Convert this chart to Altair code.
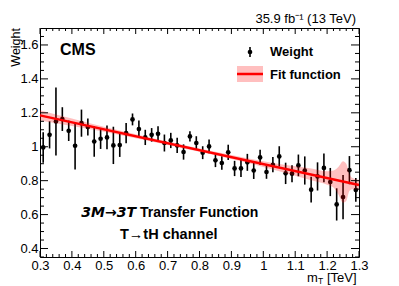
import altair as alt
import pandas as pd

# ---------------- data ----------------
bin_centers = [0.31, 0.33, 0.35, 0.37, 0.39, 0.41, 0.43, 0.45, 0.47, 0.49,
               0.51, 0.53, 0.55, 0.57, 0.59, 0.61, 0.63, 0.65, 0.67, 0.69,
               0.71, 0.73, 0.75, 0.77, 0.79, 0.81, 0.83, 0.85, 0.87, 0.89,
               0.91, 0.93, 0.95, 0.97, 0.99, 1.01, 1.03, 1.05, 1.07, 1.09,
               1.11, 1.13, 1.15, 1.17, 1.19, 1.21, 1.23, 1.25, 1.27, 1.29]
weights = [0.996, 1.070, 1.149, 1.163, 1.094, 1.006, 1.139, 1.116, 1.031, 1.047,
           1.055, 1.008, 1.010, 1.080, 1.161, 1.104, 1.055, 1.070, 1.076, 1.022,
           1.037, 1.008, 0.969, 1.061, 1.022, 0.965, 1.002, 0.920, 0.904, 0.967,
           0.872, 0.872, 0.908, 0.860, 0.937, 0.851, 0.894, 0.943, 0.843, 0.841,
           0.890, 0.860, 0.747, 0.825, 0.875, 0.792, 0.660, 0.703, 0.862, 0.745]
errors = [0.090, 0.080, 0.200, 0.070, 0.060, 0.140, 0.080, 0.050, 0.090, 0.060,
          0.070, 0.110, 0.070, 0.060, 0.035, 0.050, 0.045, 0.040, 0.045, 0.050,
          0.045, 0.045, 0.045, 0.030, 0.040, 0.038, 0.040, 0.040, 0.040, 0.045,
          0.045, 0.050, 0.050, 0.050, 0.045, 0.040, 0.045, 0.060, 0.063, 0.050,
          0.064, 0.083, 0.076, 0.083, 0.085, 0.083, 0.095, 0.130, 0.083, 0.070]

fit_x = [0.30, 1.30]
fit_y = [1.185, 0.775]

band_x = [0.30, 0.40, 0.50, 0.60, 0.70, 0.80, 0.90, 1.00, 1.10, 1.15, 1.20,
          1.22, 1.235, 1.25, 1.26, 1.27, 1.28, 1.30]
band_lo = [1.155, 1.122, 1.088, 1.050, 1.011, 0.970, 0.927, 0.881, 0.829, 0.802, 0.776,
           0.760, 0.720, 0.670, 0.680, 0.740, 0.750, 0.745]
band_hi = [1.215, 1.166, 1.118, 1.074, 1.031, 0.990, 0.951, 0.915, 0.885, 0.872, 0.856,
           0.860, 0.880, 0.915, 0.900, 0.840, 0.815, 0.805]

x_major = [0.3, 0.4, 0.5, 0.6, 0.7, 0.8, 0.9, 1.0, 1.1, 1.2, 1.3]
x_minor = [0.32, 0.34, 0.36, 0.38, 0.42, 0.44, 0.46, 0.48, 0.52, 0.54, 0.56, 0.58,
           0.62, 0.64, 0.66, 0.68, 0.72, 0.74, 0.76, 0.78, 0.82, 0.84, 0.86, 0.88,
           0.92, 0.94, 0.96, 0.98, 1.02, 1.04, 1.06, 1.08, 1.12, 1.14, 1.16, 1.18,
           1.22, 1.24, 1.26, 1.28]
y_major = [0.4, 0.6, 0.8, 1.0, 1.2, 1.4, 1.6]
y_minor = [0.35, 0.45, 0.5, 0.55, 0.65, 0.7, 0.75, 0.85, 0.9, 0.95, 1.05, 1.1,
           1.15, 1.25, 1.3, 1.35, 1.45, 1.5, 1.55, 1.65]

# ---------------- layout ----------------
W, H = 319, 229
FONT = "Liberation Sans"
xs = alt.Scale(domain=[0.3, 1.3], nice=False, zero=False)
ys = alt.Scale(domain=[0.35, 1.7], nice=False, zero=False)

pts = pd.DataFrame({"x": bin_centers, "w": weights, "e": errors})
pts["lo"] = pts["w"] - pts["e"]
pts["hi"] = pts["w"] + pts["e"]
fit = pd.DataFrame({"x": fit_x, "y": fit_y})
band = pd.DataFrame({"x": band_x, "lo": band_lo, "hi": band_hi})
xM = pd.DataFrame({"v": x_major})
xm = pd.DataFrame({"v": x_minor})
yM = pd.DataFrame({"v": y_major})
ym = pd.DataFrame({"v": y_minor})
one = pd.DataFrame({"a": [0]})

xaxis = alt.Axis(values=x_major, format="~g", ticks=False, domain=False, grid=False,
                 labelFont=FONT, labelFontSize=13, labelColor="black", labelPadding=2,
                 title=None, labelFlush=False, labelOverlap=False)
yaxis = alt.Axis(values=y_major, format="~g", ticks=False, domain=False, grid=False,
                 labelFont=FONT, labelFontSize=13, labelColor="black", labelPadding=2,
                 title=None, labelOverlap=False)

X = lambda f: alt.X(f, type="quantitative", scale=xs, axis=xaxis)
Y = lambda f: alt.Y(f, type="quantitative", scale=ys, axis=yaxis)

errbars = alt.Chart(pts).mark_rule(color="black", strokeWidth=1.6).encode(
    x=X("x"), y=Y("lo"), y2="hi:Q",
)
dots = alt.Chart(pts).mark_circle(color="black", size=22, opacity=1).encode(
    x=X("x"), y=Y("w"),
)
area = alt.Chart(band).mark_area(color="red", opacity=0.25, interpolate="monotone").encode(
    x=X("x"), y=Y("lo"), y2="hi:Q",
)
line = alt.Chart(fit).mark_line(color="red", strokeWidth=2.5).encode(
    x=X("x"), y=Y("y"),
)


def xticks(df, length):
    bot = alt.Chart(df).mark_rule(color="black", strokeWidth=1).encode(
        x=X("v"), y=alt.value(H), y2=alt.value(H - length))
    top = alt.Chart(df).mark_rule(color="black", strokeWidth=1).encode(
        x=X("v"), y=alt.value(0), y2=alt.value(length))
    return [bot, top]


def yticks(df, length):
    left = alt.Chart(df).mark_rule(color="black", strokeWidth=1).encode(
        y=Y("v"), x=alt.value(0), x2=alt.value(length))
    right = alt.Chart(df).mark_rule(color="black", strokeWidth=1).encode(
        y=Y("v"), x=alt.value(W), x2=alt.value(W - length))
    return [left, right]


ticks = xticks(xM, 6) + xticks(xm, 3) + yticks(yM, 8) + yticks(ym, 4)


def txt(s, x, y, size=13, weight="normal", align="left", style="normal", angle=0, font=FONT):
    kw = dict(font=font, fontSize=size, fontWeight=weight, align=align,
              baseline="alphabetic", color="black", fontStyle=style)
    if angle:
        kw["angle"] = angle
    return alt.Chart(one).mark_text(**kw).encode(
        x=alt.value(x), y=alt.value(y), text=alt.value(s))


texts = [
    txt("CMS", 20, 27, size=16, weight="bold"),
    txt("35.9 fb\u207b\u00b9 (13 TeV)", 316, -5, size=13, align="right"),
    txt("Weight", 230, 28, weight="bold"),
    txt("Fit function", 230, 51, weight="bold"),
    txt("3M\u21923T", 96, 189, size=14, weight="bold", style="italic", align="right",
        font="DejaVu Sans"),
    txt("Transfer Function", 100, 189, size=14, weight="bold"),
    txt("T\u2192tH channel", 80, 211, size=14.5, weight="bold"),
    txt("m", 267, 254),
    txt("T", 278, 256, size=8.5),
    txt("[TeV]", 287, 254),
    txt("Weight", -20, 0, size=12.5, align="right", angle=270),
]

leg_box = alt.Chart(one).mark_rect(color="red", opacity=0.25).encode(
    x=alt.value(197), x2=alt.value(223), y=alt.value(38), y2=alt.value(54))
leg_line = alt.Chart(one).mark_rule(color="red", strokeWidth=2.5).encode(
    x=alt.value(197), x2=alt.value(223), y=alt.value(46))
leg_bar = alt.Chart(one).mark_rule(color="black", strokeWidth=1.6).encode(
    x=alt.value(210), y=alt.value(19), y2=alt.value(29))
leg_dot = alt.Chart(one).mark_circle(color="black", size=22, opacity=1).encode(
    x=alt.value(210), y=alt.value(24))

chart = alt.layer(
    errbars, dots, area, line, *ticks, leg_box, leg_line, leg_bar, leg_dot, *texts
).properties(
    width=W, height=H,
    padding={"left": 32, "top": 20, "right": 11, "bottom": 33},
    autosize="none",
).configure_view(
    stroke="black", strokeWidth=1
)

chart.save("out.html", embed_options={"renderer": "svg", "actions": False})
